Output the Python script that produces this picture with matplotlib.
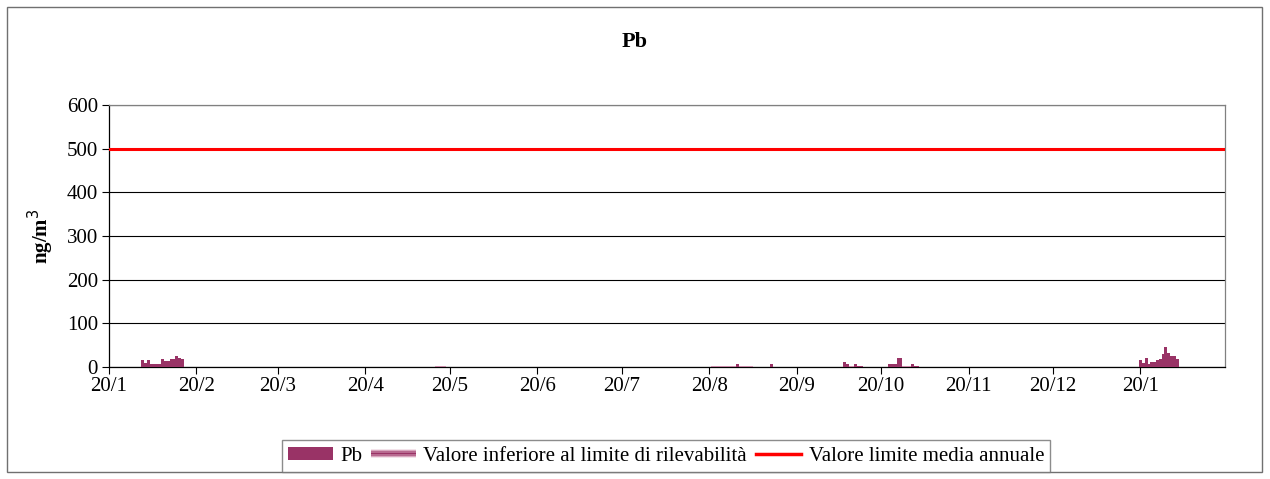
import datetime as dt

import matplotlib
matplotlib.use('Agg')
import matplotlib.pyplot as plt
import matplotlib.dates as mdates
from matplotlib.patches import Rectangle
from matplotlib.lines import Line2D
from matplotlib.legend_handler import HandlerBase

plt.rcParams['font.family'] = ['Liberation Serif', 'DejaVu Serif']

# daily Pb concentrations (ng/m3)
pb_dates = ['2004-02-01', '2004-02-02', '2004-02-03', '2004-02-04', '2004-02-05',
            '2004-02-06', '2004-02-07', '2004-02-08', '2004-02-09', '2004-02-10',
            '2004-02-11', '2004-02-12', '2004-02-13', '2004-02-14', '2004-02-15',
            '2004-08-30', '2004-09-11',
            '2004-10-07', '2004-10-08', '2004-10-11', '2004-10-12', '2004-10-13',
            '2004-10-23', '2004-10-24', '2004-10-25', '2004-10-26', '2004-10-27',
            '2004-10-31', '2004-11-01', '2004-11-02',
            '2005-01-20', '2005-01-21', '2005-01-22', '2005-01-23', '2005-01-24',
            '2005-01-25', '2005-01-26', '2005-01-27', '2005-01-28', '2005-01-29',
            '2005-01-30', '2005-01-31', '2005-02-01', '2005-02-02']
pb_values = [16, 10, 16, 7, 7, 7, 7, 18, 13, 14, 18, 18, 25, 21, 19,
             6, 7,
             11, 6, 8, 3, 2,
             6, 7, 7, 20, 20,
             6, 3, 2,
             17, 9, 21, 7, 12, 12, 16, 19, 30, 46, 33, 25, 25, 19]

# days below the detection limit
low_dates = ['2004-05-15', '2004-05-16', '2004-05-17', '2004-05-18',
             '2004-08-21', '2004-08-22', '2004-08-23', '2004-08-24', '2004-08-25',
             '2004-08-26', '2004-08-27', '2004-08-28', '2004-08-29', '2004-08-31',
             '2004-09-01', '2004-09-02', '2004-09-03', '2004-09-04',
             '2004-10-09', '2004-10-10', '2004-10-28', '2004-10-29', '2004-10-30']
low_values = [2] * len(low_dates)

limit_value = 500
y_ticks = [0, 100, 200, 300, 400, 500, 600]

bar_color = '#993366'


def to_date(s):
    return dt.datetime.strptime(s, '%Y-%m-%d')


class GradientHandler(HandlerBase):
    # thin band shaded light -> dark -> light, like the fill of the low bars
    def create_artists(self, legend, orig_handle, xdescent, ydescent,
                       width, height, fontsize, trans):
        shades = ['#f3e3ea', '#d9a7bf', '#b86a90', '#993366', '#b86a90', '#d9a7bf', '#f3e3ea']
        band = height * 0.65
        step = band / len(shades)
        y0 = (height - band) / 2 - ydescent
        arts = []
        for i, c in enumerate(shades):
            r = Rectangle((-xdescent, y0 + i * step), width, step,
                          facecolor=c, edgecolor='none', transform=trans)
            arts.append(r)
        return arts


class BlockHandler(HandlerBase):
    # solid swatch for the Pb bars
    def create_artists(self, legend, orig_handle, xdescent, ydescent,
                       width, height, fontsize, trans):
        h = height * 0.85
        r = Rectangle((-xdescent, (height - h) / 2 - ydescent), width, h,
                      facecolor=bar_color, edgecolor='none', transform=trans)
        return [r]


fig = plt.figure(figsize=(12.7, 4.79), dpi=100)
fig.patches.append(Rectangle((7 / 1270, 1 - 472 / 479), 1255 / 1270, 465 / 479,
                             transform=fig.transFigure, fill=False,
                             edgecolor='#707070', linewidth=1))

ax = fig.add_axes([109 / 1270, 1 - 367 / 479, 1116 / 1270, 262 / 479])

ax.bar([to_date(d) for d in low_dates], low_values, width=1.0,
       color='#c98aa8', linewidth=0, zorder=3)
ax.bar([to_date(d) for d in pb_dates], pb_values, width=1.0,
       color=bar_color, linewidth=0, zorder=3)
ax.axhline(limit_value, color='#ff0000', linewidth=2.2, zorder=4)

ax.set_xlim(dt.datetime(2004, 1, 20), dt.datetime(2005, 2, 19))
ax.set_ylim(0, 600)
ax.set_yticks(y_ticks)
ax.yaxis.grid(True, color='black', linewidth=0.8)
ax.set_axisbelow(True)

ax.xaxis.set_major_locator(mdates.DayLocator(bymonthday=20))
ax.xaxis.set_major_formatter(plt.FuncFormatter(
    lambda v, pos: '%d/%d' % (mdates.num2date(v).day, mdates.num2date(v).month)))

ax.tick_params(axis='both', direction='out', length=5, width=0.8,
               labelsize=15, color='black')
ax.tick_params(axis='x', pad=2)
ax.tick_params(axis='y', pad=3)

for side in ['top', 'right']:
    ax.spines[side].set_color('#808080')
for side in ['left', 'bottom']:
    ax.spines[side].set_color('black')
for s in ax.spines.values():
    s.set_linewidth(0.9)

ax.set_ylabel('ng/m$^{3}$', fontsize=15, fontweight='bold', labelpad=8)
fig.text(0.5, 1 - 42 / 479, 'Pb', ha='center', va='center',
         fontsize=16, fontweight='bold')

h_pb = Rectangle((0, 0), 1, 1)
h_low = Line2D([], [])
h_lim = Line2D([], [], color='#ff0000', linewidth=2.5)
leg = fig.legend([h_pb, h_low, h_lim],
                 ['Pb', 'Valore inferiore al limite di rilevabilità',
                  'Valore limite media annuale'],
                 handler_map={h_low: GradientHandler(), h_pb: BlockHandler()},
                 loc='center', bbox_to_anchor=(666 / 1270, 1 - 456 / 479),
                 ncol=3, fontsize=15, frameon=True, fancybox=False,
                 edgecolor='#707070', handlelength=2.15, handletextpad=0.35,
                 columnspacing=0.45, borderpad=0.3)
leg.get_frame().set_linewidth(1)

fig.savefig('out.png', dpi=100)
